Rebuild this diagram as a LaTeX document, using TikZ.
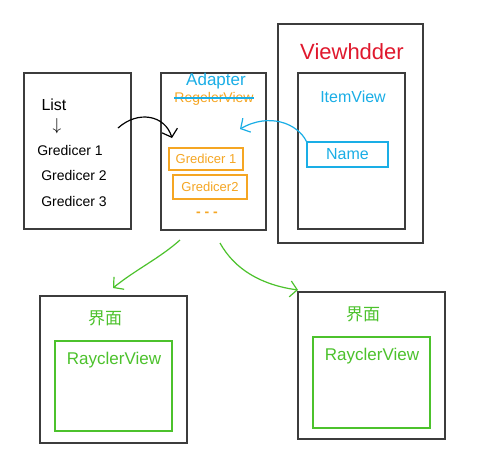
\documentclass[tikz,border=0pt]{standalone}
\usepackage{fontspec}
\setmainfont{Liberation Sans}
\newfontfamily\cjk{Noto Sans CJK SC}
\usetikzlibrary{arrows.meta}
\definecolor{boxgray}{HTML}{3C3C3C}
\definecolor{hblue}{HTML}{1AAEE6}
\definecolor{horange}{HTML}{F5A623}
\definecolor{hred}{HTML}{E0182D}
\definecolor{hgreen}{HTML}{4CC22C}
\begin{document}
\begin{tikzpicture}[x=1pt,y=-1pt,
  box/.style={draw=boxgray, line width=1.3pt, inner sep=0pt},
  gbox/.style={draw=hgreen, line width=1.2pt, inner sep=0pt},
  obox/.style={draw=horange, line width=1.1pt, inner sep=0pt, font=\fontsize{13}{13}\selectfont, text=horange},
  txt/.style={inner sep=0pt, font=\fontsize{14}{14}\selectfont},
  arr/.style={line width=1.2pt, -{Straight Barb[length=7pt,width=16pt]}}]
\useasboundingbox[fill=white] (0,0) rectangle (489,472);
% boxes
\node[box, minimum width=107pt, minimum height=156pt] (list) at (77.5,151) {};
\node[box, minimum width=105pt, minimum height=157pt] (adapter) at (213.5,151.5) {};
\node[box, minimum width=145pt, minimum height=219pt] (vh) at (350.5,133.5) {};
\node[box, minimum width=107pt, minimum height=156pt] (item) at (351.5,151) {};
\node[box, minimum width=147pt, minimum height=147pt] (bl) at (113.5,369.5) {};
\node[box, minimum width=147pt, minimum height=147pt] (br) at (371.5,365.5) {};
\node[gbox, minimum width=117pt, minimum height=90pt] (gl) at (113.5,386) {};
\node[gbox, minimum width=117pt, minimum height=91pt] (gr) at (371.5,382.5) {};
% list texts
\node[txt, font=\fontsize{16}{16}\selectfont] (tlist) at (54,105) {List};
\node[txt, font=\fontsize{16}{16}\selectfont] (tdown) at (57,126) {$\downarrow$};
\node[txt] (g1) at (70,150) {Gredicer 1};
\node[txt] (g2) at (74,175) {Gredicer 2};
\node[txt] (g3) at (74,201) {Gredicer 3};
% adapter texts
\node[txt, text=hblue, font=\fontsize{17}{17}\selectfont] (tadapter) at (216,81) {Adapter};
\node[txt, text=horange, font=\fontsize{14}{14}\selectfont] (treg) at (214,99) {RegelerView};
\draw[hblue, line width=1.3pt] ([yshift=1pt]treg.west) -- ([yshift=1pt]treg.east);
\node[obox, minimum width=74pt, minimum height=22pt] (o1) at (206,159) {Gredicer 1};
\node[obox, minimum width=74pt, minimum height=24pt] (o2) at (210,187) {Gredicer2};
\node[txt, text=horange, font=\bfseries\fontsize{14}{14}\selectfont] (dots) at (207,214) {- - -};
% viewholder texts
\node[txt, text=hred, font=\fontsize{22}{22}\selectfont] (tvh) at (352,52) {Viewhdder};
\node[txt, text=hblue, font=\fontsize{16}{16}\selectfont] (titem) at (353,97) {ItemView};
\node[draw=hblue, line width=1.2pt, minimum width=81pt, minimum height=25pt, inner sep=0pt, text=hblue, font=\fontsize{16}{16}\selectfont] (name) at (347.5,154.5) {Name};
% bottom texts
\node[txt, text=hgreen, font=\cjk\fontsize{17}{17}\selectfont] (jl) at (105,318) {界面};
\node[txt, text=hgreen, font=\cjk\fontsize{17}{17}\selectfont] (jr) at (363,314) {界面};
\node[txt, text=hgreen, font=\fontsize{17}{17}\selectfont] (rl) at (114,360) {RayclerView};
\node[txt, text=hgreen, font=\fontsize{17}{17}\selectfont] (rr) at (372,356) {RayclerView};
% arrows
\coordinate (ks) at (118,128);
\coordinate (ke) at (172,138);
\draw[arr, black] (ks) .. controls (138,110) and (165,115) .. (ke);
\coordinate (be) at (240,129);
\draw[arr, hblue] (name.north west) .. controls (298,124) and (270,112) .. (be);
\coordinate (gs1) at (180,240);
\coordinate (ge1) at (113,288);
\draw[arr, hgreen] (gs1) .. controls (160,258) and (135,270) .. (ge1);
\coordinate (gs2) at (220,243);
\coordinate (ge2) at (298,290);
\draw[arr, hgreen] (gs2) .. controls (235,270) and (262,285) .. (ge2);
\end{tikzpicture}
\end{document}
